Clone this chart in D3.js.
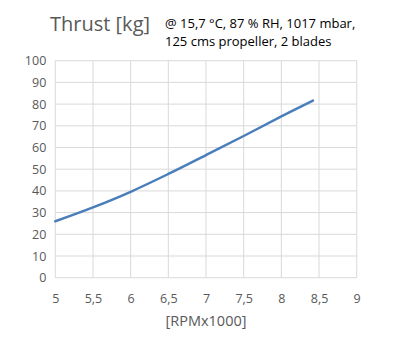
<!DOCTYPE html>
<html><head><meta charset="utf-8">
<script src="https://cdn.jsdelivr.net/npm/d3@7"></script>
<style>body{margin:0;background:#fff}svg{display:block}</style>
</head><body>
<script>
const rpm = [5, 5.5, 6, 6.5, 7, 7.5, 8, 8.42];
const thrust = [26.0, 32.4, 39.6, 47.8, 56.5, 65.3, 74.3, 81.6];
const xTicks = [5, 5.5, 6, 6.5, 7, 7.5, 8, 8.5, 9];
const yTicks = [0, 10, 20, 30, 40, 50, 60, 70, 80, 90, 100];
const title = "Thrust [kg]";
const subtitle = ["@ 15,7 °C, 87 % RH, 1017 mbar,", "125 cms propeller, 2 blades"];
const xLabel = "[RPMx1000]";

const W = 396, H = 342;
const svg = d3.select("body").append("svg").attr("width", W).attr("height", H);
const font = "'Open Sans', sans-serif";
const x = d3.scaleLinear().domain([5, 9]).range([55.3, 356.7]);
const y = d3.scaleLinear().domain([0, 100]).range([277.7, 60.7]);

const g = svg.append("g");
g.selectAll(".vg").data(xTicks).enter().append("line")
  .attr("x1", d => x(d)).attr("x2", d => x(d)).attr("y1", y(0)).attr("y2", y(100))
  .attr("stroke", "#d9d9d9").attr("stroke-width", 1);
g.selectAll(".hg").data(yTicks).enter().append("line")
  .attr("x1", x(5)).attr("x2", x(9)).attr("y1", d => y(d)).attr("y2", d => y(d))
  .attr("stroke", "#d9d9d9").attr("stroke-width", 1);

const yAxis = d3.axisLeft(y).tickValues(yTicks).tickSize(0).tickPadding(9).tickFormat(d3.format("d"));
const ya = svg.append("g").attr("transform", `translate(${x(5)},0)`).call(yAxis);
ya.select(".domain").remove();
ya.selectAll("text").attr("font-family", font).attr("font-size", 12.5).attr("fill", "#595959");

const xAxis = d3.axisBottom(x).tickValues(xTicks).tickSize(0).tickPadding(16)
  .tickFormat(d => String(d).replace(".", ","));
const xa = svg.append("g").attr("transform", `translate(0,${y(0)})`).call(xAxis);
xa.select(".domain").remove();
xa.selectAll("text").attr("font-family", font).attr("font-size", 12.5).attr("fill", "#595959");

const line = d3.line().x((d, i) => x(rpm[i])).y(d => y(d)).curve(d3.curveCatmullRom);
svg.append("path").datum(thrust).attr("d", line)
  .attr("fill", "none").attr("stroke", "#4a7ebb").attr("stroke-width", 2.5).attr("stroke-linecap", "round");

svg.append("text").attr("x", 50).attr("y", 31).text(title)
  .attr("font-family", font).attr("font-size", 20).attr("fill", "#595959");
svg.selectAll(".sub").data(subtitle).enter().append("text")
  .attr("x", 165).attr("y", (d, i) => 28 + i * 18).text(d => d)
  .attr("font-family", font).attr("font-size", 13).attr("fill", "#000");
svg.append("text").attr("x", 206).attr("y", 326).attr("text-anchor", "middle").text(xLabel)
  .attr("font-family", font).attr("font-size", 14.5).attr("fill", "#595959");
</script>
</body></html>
